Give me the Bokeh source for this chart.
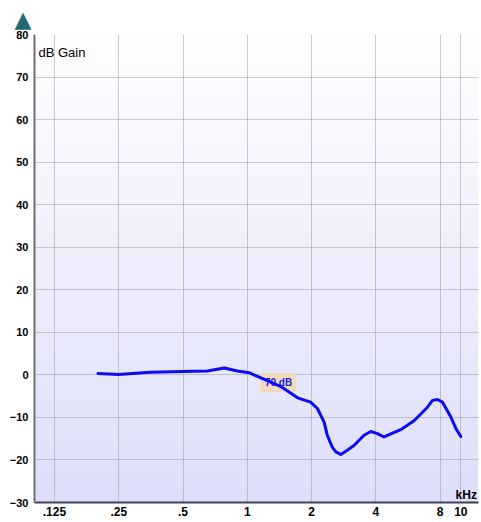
import numpy as np
from bokeh.plotting import figure
from bokeh.models import FixedTicker, Label
from bokeh.core.properties import value
from bokeh.embed import file_html
from bokeh.resources import INLINE

# ---- data ----
freq_khz = [0.2, 0.25, 0.35, 0.5, 0.65, 0.78, 0.9, 1.02, 1.18, 1.43, 1.72, 1.98,
            2.13, 2.29, 2.37, 2.5, 2.6, 2.74, 2.94, 3.16, 3.52, 3.79, 4.07, 4.37,
            5.23, 6.04, 6.98, 7.37, 7.78, 8.2, 8.98, 9.48, 10.0]
gain_db = [0.3, 0.1, 0.6, 0.8, 0.9, 1.6, 0.9, 0.5, -0.9, -2.7, -5.4, -6.4,
           -7.9, -11.1, -14.2, -17.0, -18.1, -18.7, -17.7, -16.6, -14.2, -13.3, -13.8, -14.6,
           -12.9, -10.8, -7.6, -6.0, -5.8, -6.4, -9.9, -12.6, -14.5]

x_ticks = [0.125, 0.25, 0.5, 1, 2, 4, 8, 10]
x_tick_labels = [".125", ".25", ".5", "1", "2", "4", "8", "10"]
y_ticks = [-30, -20, -10, 0, 10, 20, 30, 40, 50, 60, 70, 80]

level_text = "70 dB"
level_freq = 1.4
level_db = -1.8

x_start, x_end = 0.1008, 12.1
y_start, y_end = -30, 80

# ---- figure ----
p = figure(width=480, height=520, x_axis_type="log",
           x_range=(x_start, x_end), y_range=(y_start, y_end),
           output_backend="svg", toolbar_location=None,
           min_border_left=34, min_border_right=2,
           min_border_top=34, min_border_bottom=18)
p.outline_line_color = None
p.background_fill_color = "white"
p.border_fill_color = "white"

# decorative "scroll up" triangle above the plot, as the title
p.title.text = "\u25B2"
p.title.text_font = "DejaVu Sans"
p.title.text_font_size = "22px"
p.title.text_font_style = "normal"
p.title.text_color = "#1f6a70"
p.title.align = "left"
p.title.offset = -20
p.title.standoff = 6
p.title.vertical_align = "bottom"

# gradient background (white at top -> lavender at bottom)
n = 256
t = np.linspace(0, 1, n)  # 0 bottom, 1 top
top_c = np.array([255, 255, 255])
bot_c = np.array([222, 222, 250])
cols = (bot_c[None, :] * (1 - t[:, None]) + top_c[None, :] * t[:, None]).astype(np.uint8)
img = np.empty((n, 1), dtype=np.uint32)
view = img.view(dtype=np.uint8).reshape((n, 1, 4))
view[:, 0, 0] = cols[:, 0]
view[:, 0, 1] = cols[:, 1]
view[:, 0, 2] = cols[:, 2]
view[:, 0, 3] = 255
p.image_rgba(image=[img], x=x_start, y=y_start, dw=x_end - x_start, dh=y_end - y_start,
             level="image")

# axes
p.xaxis.ticker = FixedTicker(ticks=x_ticks, minor_ticks=[])
p.xaxis.major_label_overrides = {t_: l_ for t_, l_ in zip(x_ticks, x_tick_labels)}
p.yaxis.ticker = FixedTicker(ticks=y_ticks, minor_ticks=[])
for ax in (p.xaxis[0], p.yaxis[0]):
    ax.major_tick_line_color = None
    ax.minor_tick_line_color = None
    ax.major_tick_out = 0
    ax.major_tick_in = 0
    ax.major_label_text_font = "Liberation Sans"
    ax.major_label_text_font_style = "bold"
    ax.major_label_text_color = "black"
p.yaxis.major_label_text_font_size = "11px"
p.xaxis.major_label_text_font_size = "12px"
p.yaxis.major_label_standoff = 6
p.xaxis.major_label_standoff = 4
p.yaxis.axis_line_color = "#707070"
p.yaxis.axis_line_width = 2
p.xaxis.axis_line_color = "#404050"
p.xaxis.axis_line_width = 2

p.xgrid.grid_line_color = "#909098"
p.xgrid.grid_line_alpha = 0.45
p.ygrid.grid_line_color = "#909098"
p.ygrid.grid_line_alpha = 0.45

# level tag
p.text(x=[level_freq], y=[level_db], text=[level_text],
       text_font=value("Liberation Sans"), text_font_style="bold",
       text_font_size="10px", text_color="#1a1af0",
       text_align="center", text_baseline="middle",
       background_fill_color="#f3d6b0", background_fill_alpha=0.85,
       padding=4, border_radius=3)

# curve
p.line(freq_khz, gain_db, line_color="#0c0cf0", line_width=3,
       line_join="round", line_cap="round")

# in-plot labels
p.add_layout(Label(x=0.1052, y=77.6, text="dB Gain", text_baseline="top",
                   text_font="Liberation Sans", text_font_size="13px",
                   text_color="black"))
p.add_layout(Label(x=11.9, y=-28.3, text="kHz", text_align="right",
                   text_baseline="alphabetic", text_font="Liberation Sans",
                   text_font_style="bold", text_font_size="12px", text_color="black"))

open("out.html", "w").write(file_html(p, INLINE))
